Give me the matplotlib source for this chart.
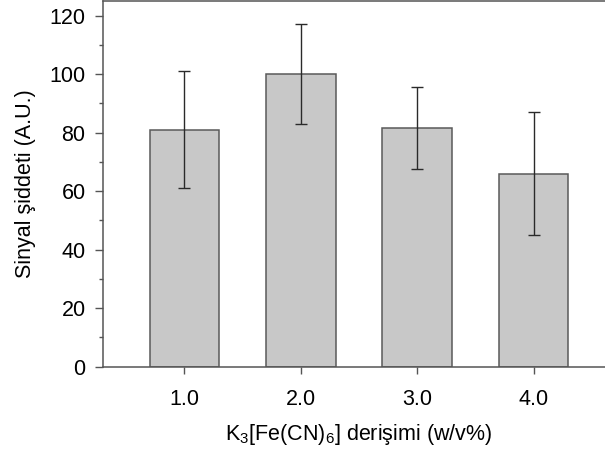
import matplotlib
matplotlib.use("Agg")
import matplotlib.pyplot as plt
from matplotlib.ticker import MultipleLocator

# Signal intensity vs. K3[Fe(CN)6] concentration
concentrations = [1.0, 2.0, 3.0, 4.0]
tick_labels = ["1.0", "2.0", "3.0", "4.0"]
signal = [81.0, 100.0, 81.5, 66.0]
signal_err = [20.0, 17.0, 14.0, 21.0]

plt.rcParams["font.family"] = ["Liberation Sans", "DejaVu Sans"]
plt.rcParams["font.size"] = 15.5
plt.rcParams["mathtext.fontset"] = "custom"
plt.rcParams["mathtext.rm"] = "Liberation Sans"
plt.rcParams["mathtext.it"] = "Liberation Sans:italic"

fig = plt.figure(figsize=(6.05, 4.55), dpi=100)
# axes run past the right edge of the figure, so the right frame is cut off
ax = fig.add_axes([0.1702, 0.1941, 0.8463, 0.8037])

ax.bar(concentrations, signal, width=0.6, color="#c8c8c8",
       edgecolor="#5a5a5a", linewidth=1.1, zorder=2)
ax.errorbar(concentrations, signal, yerr=signal_err, fmt="none",
            ecolor="#2a2a2a", elinewidth=1.0, capsize=4, capthick=1.0, zorder=3)

ax.set_xlim(0.3, 4.7)
ax.set_ylim(0, 125)
ax.set_xticks(concentrations)
ax.set_xticklabels(tick_labels)
ax.yaxis.set_major_locator(MultipleLocator(20))
ax.yaxis.set_minor_locator(MultipleLocator(10))

for side in ["left", "bottom", "top", "right"]:
    ax.spines[side].set_color("#555555")
    ax.spines[side].set_linewidth(1.1)

ax.tick_params(axis="y", which="major", direction="out", length=5.5, width=1, color="#555555", pad=7)
ax.tick_params(axis="y", which="minor", direction="out", length=3, width=1, color="#555555")
ax.tick_params(axis="x", which="major", direction="out", length=5, width=1, color="#555555", pad=11)

ax.set_ylabel("Sinyal şiddeti (A.U.)", fontsize=15.5, labelpad=10)
ax.set_xlabel("K$_\\mathrm{3}$[Fe(CN)$_\\mathrm{6}$] derişimi (w/v%)", fontsize=15.5, labelpad=9)

fig.savefig("out.png", dpi=100)
